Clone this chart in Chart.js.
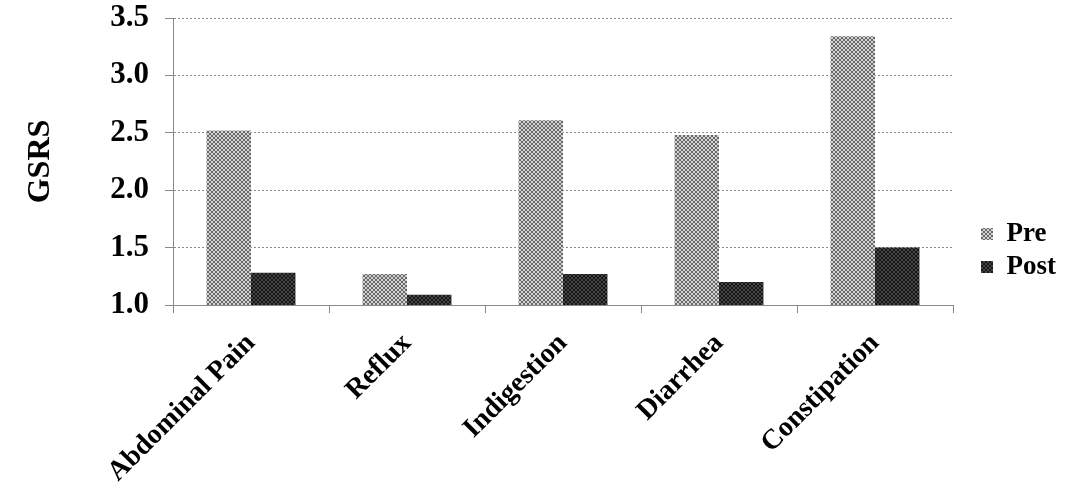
<!DOCTYPE html>
<html>
<head>
<meta charset="utf-8">
<script src="https://cdn.jsdelivr.net/npm/chart.js@4.4.1/dist/chart.umd.min.js"></script>
<style>
  html, body { margin: 0; padding: 0; background: #fff; }
  #wrap { width: 1066px; height: 501px; position: relative; }
</style>
</head>
<body>
<div id="wrap"><canvas id="gsrsChart"></canvas></div>
<script>
// ─── Data ─────────────────────────────────────────────
const categories = ['Abdominal Pain', 'Reflux', 'Indigestion', 'Diarrhea', 'Constipation'];
const preValues  = [2.52, 1.27, 2.61, 2.48, 3.34];
const postValues = [1.28, 1.09, 1.27, 1.20, 1.50];
const yTicks     = [1.0, 1.5, 2.0, 2.5, 3.0, 3.5];
const seriesNames = ['Pre', 'Post'];

// ─── Helpers ──────────────────────────────────────────
const FONT = '"Liberation Serif", "Times New Roman", serif';

// small cross-hatch tile, like the printed figure
function makeHatch(bg, fg) {
    const c = document.createElement('canvas');
    c.width = 4; c.height = 4;
    const g = c.getContext('2d');
    g.fillStyle = bg;
    g.fillRect(0, 0, 4, 4);
    g.fillStyle = fg;
    for (let i = 0; i < 4; i++) {
        g.fillRect(i, i, 1, 1);
        g.fillRect(3 - i, i, 1, 1);
    }
    return g.createPattern(c, 'repeat');
}

const ctx = document.getElementById('gsrsChart').getContext('2d');
const prePattern  = makeHatch('#d2d2d2', '#6a6a6a');
const postPattern = makeHatch('#444444', '#161616');

// push the legend a bit to the right, the plot keeps its width
const legendShift = {
    id: 'legendShift',
    afterLayout(chart) {
        if (chart.legend) { chart.legend.left += 22; chart.legend.right += 22; }
    }
};

new Chart(ctx, {
    type: 'bar',
    data: {
        labels: categories,
        datasets: [
            { label: seriesNames[0], data: preValues,  backgroundColor: prePattern,  borderWidth: 0 },
            { label: seriesNames[1], data: postValues, backgroundColor: postPattern, borderWidth: 0 }
        ]
    },
    options: {
        responsive: true,
        maintainAspectRatio: false,
        animation: false,
        layout: { padding: { top: 0, right: 22, bottom: 0, left: 0 } },
        datasets: { bar: { barPercentage: 1.0, categoryPercentage: 0.57 } },
        plugins: {
            tooltip: { enabled: false },
            legend: {
                position: 'right',
                align: 'center',
                labels: {
                    color: '#000',
                    font: { family: FONT, size: 27, weight: 'bold' },
                    boxWidth: 12,
                    boxHeight: 12,
                    padding: 6
                }
            }
        },
        scales: {
            x: {
                offset: true,
                grid: { display: true, drawOnChartArea: false, drawTicks: true, tickLength: 8, color: '#8a8a8a' },
                border: { display: true, color: '#8a8a8a', dash: [2, 2] },
                ticks: {
                    color: '#000',
                    font: { family: FONT, size: 28, weight: 'bold' },
                    maxRotation: 45,
                    minRotation: 45,
                    padding: 14,
                    autoSkip: false
                },
                afterFit: (s) => { s.height = 196; }
            },
            y: {
                min: 1.0,
                max: 3.5,
                afterBuildTicks: (s) => { s.ticks = yTicks.map(v => ({ value: v })); },
                grid: { color: '#8a8a8a', lineWidth: 1, tickLength: 8, drawTicks: true },
                border: { display: true, color: '#8a8a8a', dash: [2, 2] },
                ticks: {
                    color: '#000',
                    font: { family: FONT, size: 31, weight: 'bold' },
                    padding: 16,
                    callback: (v) => Number(v).toFixed(1)
                },
                title: {
                    display: true,
                    text: 'GSRS',
                    color: '#000',
                    font: { family: FONT, size: 32, weight: 'bold' },
                    padding: { top: 22, bottom: 0 }
                },
                afterFit: (s) => { s.width = 173; s.paddingTop = 18; }
            }
        }
    },
    plugins: [legendShift]
});
</script>
</body>
</html>
